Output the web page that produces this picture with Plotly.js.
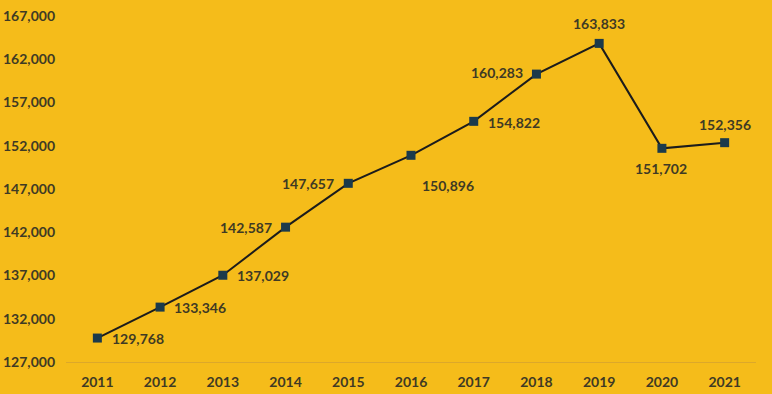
<!DOCTYPE html>
<html>
<head>
<meta charset="utf-8">
<script src="https://cdn.plot.ly/plotly-3.0.1.min.js"></script>
<style>html,body{margin:0;padding:0;background:#F5BC1A;}</style>
</head>
<body>
<div id="chart" style="width:772px;height:394px;"></div>
<script>
const years = ['2011','2012','2013','2014','2015','2016','2017','2018','2019','2020','2021'];
const values = [129768,133346,137029,142587,147657,150896,154822,160283,163833,151702,152356];
const yTicks = [127000,132000,137000,142000,147000,152000,157000,162000,167000];

// label placement (anchor, x offset px, y offset px) per point
const labelAnchor = ['left','left','left','right','right','left','left','right','center','center','center'];
const labelDx = [13, 12, 12, -12, -12, 9, 12, -11, 0, -1, 0];
const labelDy = [0, 0, 0, 0, 0, -30, -1, 2, 20, -20, 18];

const textColor = '#3f3a24';
const fontFam = 'Lato, "Open Sans", sans-serif';

const trace = {
  x: years,
  y: values,
  type: 'scatter',
  mode: 'lines+markers',
  line: {color: '#1c1c1c', width: 2},
  marker: {symbol: 'square', size: 9, color: '#1B3A4B'},
  cliponaxis: false,
  hoverinfo: 'skip'
};

const annotations = years.map((yr, i) => ({
  x: i,
  y: values[i],
  xref: 'x',
  yref: 'y',
  text: values[i].toLocaleString('en-US'),
  showarrow: false,
  xanchor: labelAnchor[i],
  yanchor: 'middle',
  xshift: labelDx[i],
  yshift: labelDy[i],
  font: {family: fontFam, size: 14, color: textColor}
}));

const layout = {
  width: 772,
  height: 394,
  margin: {l: 66, r: 16, t: 16, b: 32},
  paper_bgcolor: '#F5BC1A',
  plot_bgcolor: '#F5BC1A',
  showlegend: false,
  font: {family: fontFam, size: 14, color: textColor, weight: 700},
  annotations: annotations,
  xaxis: {
    type: 'category',
    range: [-0.5, 10.5],
    showgrid: false,
    zeroline: false,
    showline: true,
    linecolor: '#DCA82A',
    linewidth: 1,
    ticks: '',
    tickfont: {family: fontFam, size: 14, color: textColor, weight: 700},
    ticklabelstandoff: 7
  },
  yaxis: {
    range: [127000, 167000],
    tickvals: yTicks,
    ticktext: yTicks.map(v => v.toLocaleString('en-US')),
    showgrid: false,
    zeroline: false,
    showline: false,
    ticks: '',
    tickfont: {family: fontFam, size: 14, color: textColor, weight: 700},
    ticklabelstandoff: 10
  }
};

Plotly.newPlot('chart', [trace], layout, {displayModeBar: false, staticPlot: true});
</script>
</body>
</html>
